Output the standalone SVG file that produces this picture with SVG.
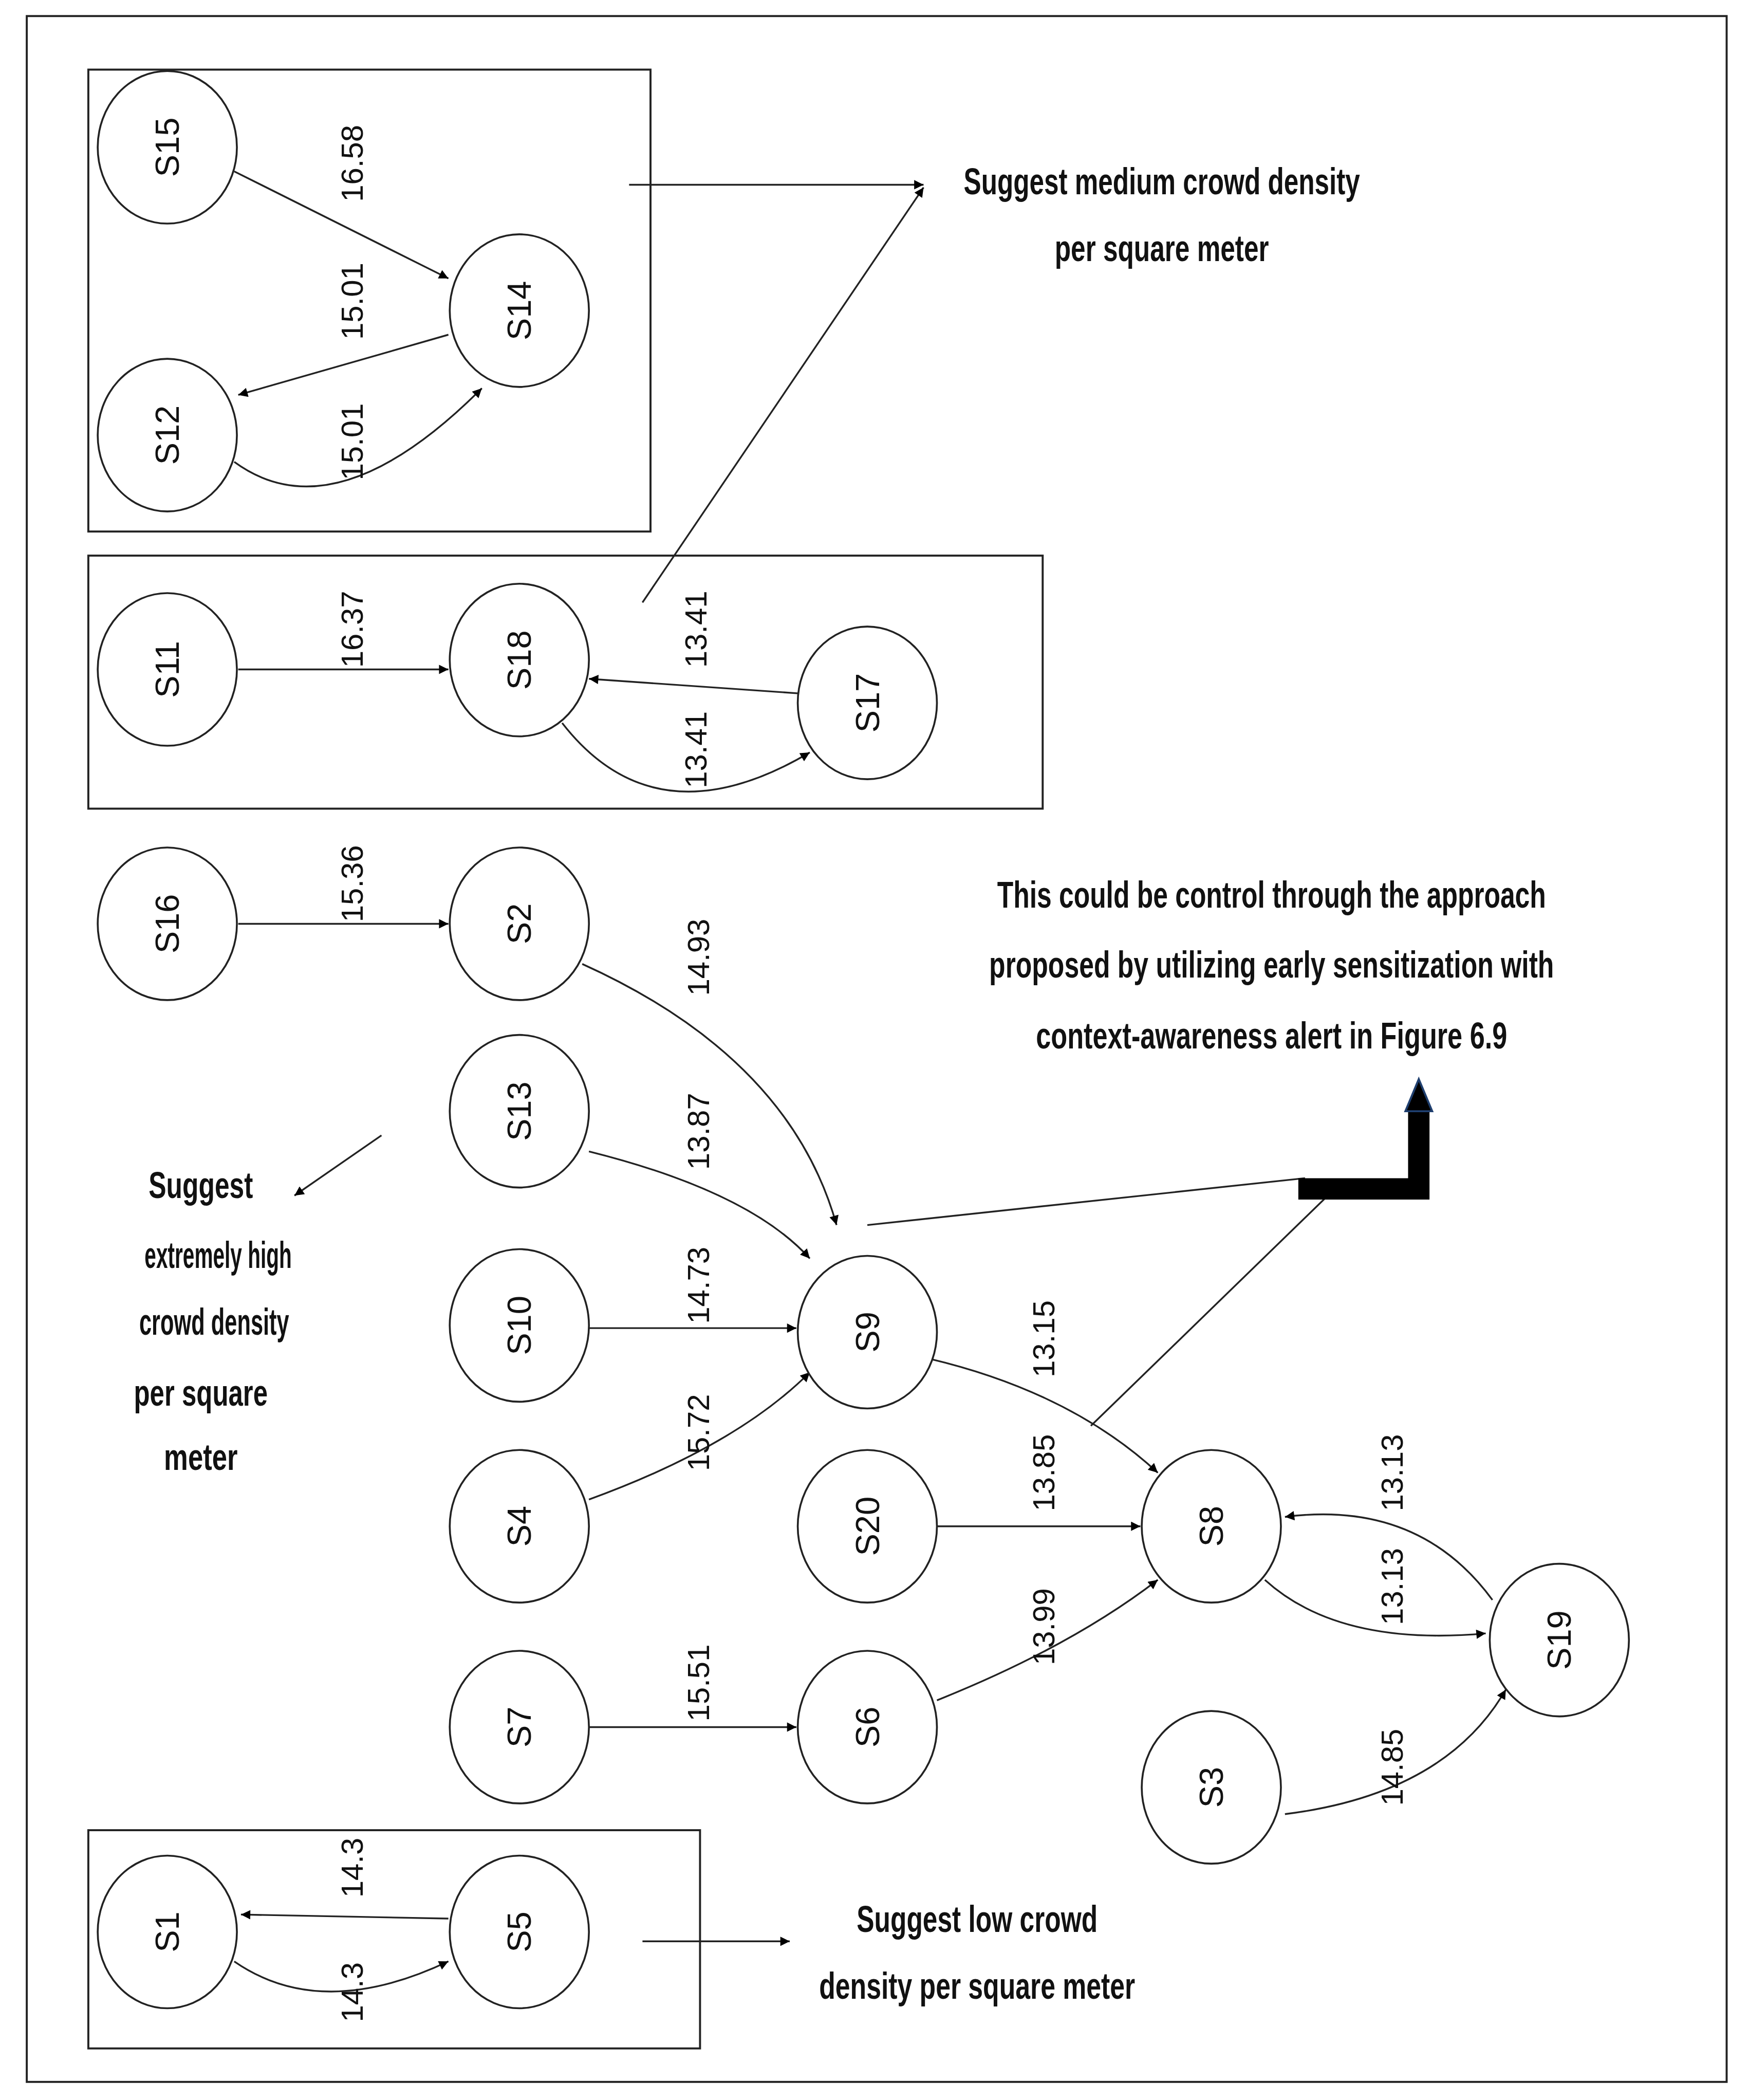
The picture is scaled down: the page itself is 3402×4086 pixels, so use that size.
<svg xmlns="http://www.w3.org/2000/svg" width="3402" height="4086" viewBox="0 0 3402 4086">
<defs>
<marker id="ah" viewBox="0 0 10 10" refX="10" refY="5" markerWidth="9" markerHeight="7" markerUnits="userSpaceOnUse" orient="auto"><path d="M0,0 L10,5 L0,10 z" fill="#000"/></marker>
</defs>
<style>
.n ellipse{fill:#fff;stroke:#222;stroke-width:1.4}
.n text{font-family:"Liberation Sans",Arial,sans-serif;font-size:25px;text-anchor:middle;dominant-baseline:central;fill:#111}
.e{fill:none;stroke:#222;stroke-width:1.3;marker-end:url(#ah)}
.l{font-family:"Liberation Sans",Arial,sans-serif;font-size:23px;text-anchor:middle;dominant-baseline:central;fill:#111}
.t{font-family:"Liberation Sans",Arial,sans-serif;font-size:28px;font-weight:bold;text-anchor:middle;fill:#111}
.b{fill:none;stroke:#222;stroke-width:1.5}
</style>
<rect width="3402" height="4086" fill="#fff"/>
<g transform="scale(2.605)">
<rect class="b" x="20" y="12" width="1270" height="1543"/>
<rect class="b" x="66" y="52" width="420" height="345"/>
<rect class="b" x="66" y="415" width="713" height="189"/>
<rect class="b" x="66" y="1367" width="457" height="163"/>
<g id="connectors">
<path class="e" d="M175,128 L335,208"/>
<path class="e" d="M335,250 L178,295"/>
<path class="e" d="M175,345 Q250,400 360,290"/>
<path class="e" d="M178,500 L335,500"/>
<path class="e" d="M598,518 L440,507"/>
<path class="e" d="M420,540 Q490,630 605,562"/>
<path class="e" d="M178,690 L335,690"/>
<path class="e" d="M435,720 Q590,790 625,915"/>
<path class="e" d="M440,860 Q560,890 605,940"/>
<path class="e" d="M440,992 L595,992"/>
<path class="e" d="M440,1120 Q550,1080 605,1025"/>
<path class="e" d="M695,1015 Q800,1040 865,1100"/>
<path class="e" d="M700,1140 L852,1140"/>
<path class="e" d="M700,1270 Q800,1230 865,1180"/>
<path class="e" d="M440,1290 L595,1290"/>
<path class="e" d="M1115,1195 Q1060,1120 960,1133"/>
<path class="e" d="M945,1180 Q1000,1230 1110,1220"/>
<path class="e" d="M960,1355 Q1080,1340 1125,1262"/>
<path class="e" d="M335,1433 L180,1430"/>
<path class="e" d="M175,1465 Q240,1510 335,1465"/>
<path class="e" d="M470,138 L690,138"/>
<path class="e" d="M480,450 L690,140"/>
<path class="e" d="M480,1450 L590,1450"/>
<path class="e" d="M285,848 L220,893"/>
<path d="M648,915 L975,880" stroke="#222" stroke-width="1.3" fill="none"/>
<path d="M815,1065 L990,895" stroke="#222" stroke-width="1.3" fill="none"/>
<path d="M970,888 L1060,888 L1060,828" stroke="#000" stroke-width="16" fill="none"/>
<polygon points="1060,806 1070,830 1050,830" fill="#000" stroke="#1f3f6f" stroke-width="1.5"/>
</g>
<g id="S15" class="n"><ellipse cx="125" cy="110" rx="52" ry="57"/><text transform="translate(125,110) rotate(-90)">S15</text></g>
<g id="S14" class="n"><ellipse cx="388" cy="232" rx="52" ry="57"/><text transform="translate(388,232) rotate(-90)">S14</text></g>
<g id="S12" class="n"><ellipse cx="125" cy="325" rx="52" ry="57"/><text transform="translate(125,325) rotate(-90)">S12</text></g>
<g id="S11" class="n"><ellipse cx="125" cy="500" rx="52" ry="57"/><text transform="translate(125,500) rotate(-90)">S11</text></g>
<g id="S18" class="n"><ellipse cx="388" cy="493" rx="52" ry="57"/><text transform="translate(388,493) rotate(-90)">S18</text></g>
<g id="S17" class="n"><ellipse cx="648" cy="525" rx="52" ry="57"/><text transform="translate(648,525) rotate(-90)">S17</text></g>
<g id="S16" class="n"><ellipse cx="125" cy="690" rx="52" ry="57"/><text transform="translate(125,690) rotate(-90)">S16</text></g>
<g id="S2" class="n"><ellipse cx="388" cy="690" rx="52" ry="57"/><text transform="translate(388,690) rotate(-90)">S2</text></g>
<g id="S13" class="n"><ellipse cx="388" cy="830" rx="52" ry="57"/><text transform="translate(388,830) rotate(-90)">S13</text></g>
<g id="S10" class="n"><ellipse cx="388" cy="990" rx="52" ry="57"/><text transform="translate(388,990) rotate(-90)">S10</text></g>
<g id="S4" class="n"><ellipse cx="388" cy="1140" rx="52" ry="57"/><text transform="translate(388,1140) rotate(-90)">S4</text></g>
<g id="S9" class="n"><ellipse cx="648" cy="995" rx="52" ry="57"/><text transform="translate(648,995) rotate(-90)">S9</text></g>
<g id="S20" class="n"><ellipse cx="648" cy="1140" rx="52" ry="57"/><text transform="translate(648,1140) rotate(-90)">S20</text></g>
<g id="S8" class="n"><ellipse cx="905" cy="1140" rx="52" ry="57"/><text transform="translate(905,1140) rotate(-90)">S8</text></g>
<g id="S19" class="n"><ellipse cx="1165" cy="1225" rx="52" ry="57"/><text transform="translate(1165,1225) rotate(-90)">S19</text></g>
<g id="S7" class="n"><ellipse cx="388" cy="1290" rx="52" ry="57"/><text transform="translate(388,1290) rotate(-90)">S7</text></g>
<g id="S6" class="n"><ellipse cx="648" cy="1290" rx="52" ry="57"/><text transform="translate(648,1290) rotate(-90)">S6</text></g>
<g id="S3" class="n"><ellipse cx="905" cy="1335" rx="52" ry="57"/><text transform="translate(905,1335) rotate(-90)">S3</text></g>
<g id="S1" class="n"><ellipse cx="125" cy="1443" rx="52" ry="57"/><text transform="translate(125,1443) rotate(-90)">S1</text></g>
<g id="S5" class="n"><ellipse cx="388" cy="1443" rx="52" ry="57"/><text transform="translate(388,1443) rotate(-90)">S5</text></g>
<g id="labels">
<text class="l" transform="translate(263,122) rotate(-90)">16.58</text>
<text class="l" transform="translate(263,225) rotate(-90)">15.01</text>
<text class="l" transform="translate(263,330) rotate(-90)">15.01</text>
<text class="l" transform="translate(263,470) rotate(-90)">16.37</text>
<text class="l" transform="translate(520,470) rotate(-90)">13.41</text>
<text class="l" transform="translate(520,560) rotate(-90)">13.41</text>
<text class="l" transform="translate(263,660) rotate(-90)">15.36</text>
<text class="l" transform="translate(522,715) rotate(-90)">14.93</text>
<text class="l" transform="translate(522,845) rotate(-90)">13.87</text>
<text class="l" transform="translate(522,960) rotate(-90)">14.73</text>
<text class="l" transform="translate(522,1070) rotate(-90)">15.72</text>
<text class="l" transform="translate(780,1000) rotate(-90)">13.15</text>
<text class="l" transform="translate(780,1100) rotate(-90)">13.85</text>
<text class="l" transform="translate(780,1215) rotate(-90)">13.99</text>
<text class="l" transform="translate(522,1257) rotate(-90)">15.51</text>
<text class="l" transform="translate(1040,1100) rotate(-90)">13.13</text>
<text class="l" transform="translate(1040,1185) rotate(-90)">13.13</text>
<text class="l" transform="translate(1040,1320) rotate(-90)">14.85</text>
<text class="l" transform="translate(263,1395) rotate(-90)">14.3</text>
<text class="l" transform="translate(263,1488) rotate(-90)">14.3</text>
</g>
<g id="notes">
<text class="t" x="868" y="145" textLength="296" lengthAdjust="spacingAndGlyphs">Suggest medium crowd density</text>
<text class="t" x="868" y="195" textLength="160" lengthAdjust="spacingAndGlyphs">per square meter</text>
<text class="t" x="950" y="678" textLength="410" lengthAdjust="spacingAndGlyphs">This could be control through the approach</text>
<text class="t" x="950" y="730" textLength="422" lengthAdjust="spacingAndGlyphs">proposed by utilizing early sensitization with</text>
<text class="t" x="950" y="783" textLength="352" lengthAdjust="spacingAndGlyphs">context-awareness alert  in Figure 6.9</text>
<text class="t" x="150" y="895" textLength="78" lengthAdjust="spacingAndGlyphs">Suggest</text>
<text class="t" x="163" y="947" textLength="110" lengthAdjust="spacingAndGlyphs">extremely high</text>
<text class="t" x="160" y="997" textLength="112" lengthAdjust="spacingAndGlyphs">crowd density</text>
<text class="t" x="150" y="1050" textLength="100" lengthAdjust="spacingAndGlyphs">per square</text>
<text class="t" x="150" y="1098" textLength="55" lengthAdjust="spacingAndGlyphs">meter</text>
<text class="t" x="730" y="1443" textLength="180" lengthAdjust="spacingAndGlyphs">Suggest low crowd</text>
<text class="t" x="730" y="1493" textLength="236" lengthAdjust="spacingAndGlyphs">density per square meter</text>
</g>
</g>
</svg>
